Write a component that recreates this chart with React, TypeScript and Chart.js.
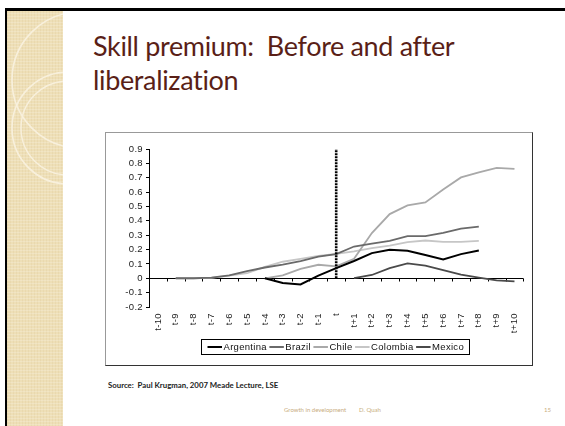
import React, { useEffect, useRef } from "react";
import { Chart, registerables } from "chart.js";
Chart.register(...registerables);

const categories = ["t-10","t-9","t-8","t-7","t-6","t-5","t-4","t-3","t-2","t-1","t","t+1","t+2","t+3","t+4","t+5","t+6","t+7","t+8","t+9","t+10"];
const seriesNames = ["Argentina", "Brazil", "Chile", "Colombia", "Mexico"];
const argentina = [null,null,null,null,null,null, 0, -0.033, -0.043, 0.018, 0.071, 0.12, 0.175, 0.198, 0.191, 0.162, 0.131, 0.168, 0.193, null, null];
const brazil = [null, 0, 0, 0.005, 0.02, 0.05, 0.075, 0.095, 0.12, 0.15, 0.168, 0.221, 0.241, 0.261, 0.294, 0.293, 0.316, 0.345, 0.36, null, null];
const chile = [null,null,null,null,null,null, 0, 0.02, 0.066, 0.094, 0.083, 0.135, 0.315, 0.447, 0.507, 0.528, 0.618, 0.702, 0.738, 0.768, 0.762];
const colombia = [null, 0, 0, 0.003, 0.018, 0.035, 0.08, 0.115, 0.135, 0.155, 0.17, 0.188, 0.21, 0.228, 0.252, 0.263, 0.254, 0.254, 0.261, null, null];
const mexico = [null,null,null,null,null,null,null,null,null,null,null, 0.001, 0.023, 0.071, 0.104, 0.088, 0.056, 0.025, 0.005, -0.014, -0.021];
const seriesColors = ["#000000", "#6a6a6a", "#a9a9a9", "#c6c6c6", "#4a4a4a"];
const yMin = -0.2;
const yMax = 0.9;
const yStep = 0.1;
const markerCategory = "t";
const markerTop = 0.9;

const titleLines = ["Skill premium:  Before and after", "liberalization"];
const sourceText = "Source:  Paul Krugman, 2007 Meade Lecture, LSE";
const footerLeft = "Growth in development";
const footerAuthor = "D. Quah";
const pageNumber = "15";

const chartPlugin = {
  id: "excelLook",
  beforeDraw(chart: any) {
    try { chart.ctx.letterSpacing = "0.35px"; } catch (e) {}
  },
  beforeDatasetsDraw(chart: any) {
    const { ctx, chartArea, scales } = chart;
    const y = scales.y;
    const y0 = Math.round(y.getPixelForValue(0)) + 0.5;
    const n = chart.data.labels.length;
    const w = (chartArea.right - chartArea.left) / n;
    ctx.save();
    ctx.strokeStyle = "#000";
    ctx.lineWidth = 1;
    ctx.beginPath();
    ctx.moveTo(chartArea.left, y0);
    ctx.lineTo(chartArea.right, y0);
    for (let i = 1; i <= n; i++) {
      const px = Math.round(chartArea.left + i * w) + 0.5;
      ctx.moveTo(px, y0);
      ctx.lineTo(px, y0 + 3);
    }
    ctx.stroke();
    ctx.restore();
  },
  afterDatasetsDraw(chart: any) {
    const { ctx, scales } = chart;
    const idx = chart.data.labels.indexOf(markerCategory);
    const px = scales.x.getPixelForValue(idx);
    ctx.save();
    ctx.strokeStyle = "#000";
    ctx.lineWidth = 2.6;
    ctx.setLineDash([2, 1]);
    ctx.beginPath();
    ctx.moveTo(px, scales.y.getPixelForValue(0));
    ctx.lineTo(px, scales.y.getPixelForValue(markerTop));
    ctx.stroke();
    ctx.restore();
  },
  afterDraw(chart: any) {
    const ctx = chart.ctx;
    const boxTop = 206.5;
    const boxH = 15;
    const sample = 14.5;
    const font = "9.5px 'Liberation Sans', Arial, sans-serif";
    ctx.save();
    ctx.font = font;
    try { ctx.letterSpacing = "0.3px"; } catch (e) {}
    const sets = chart.data.datasets;
    let total = 0;
    const widths = sets.map((d: any) => ctx.measureText(d.label).width);
    widths.forEach((w: number) => { total += sample + 1.5 + w; });
    total += 2.5 * (sets.length - 1);
    const pad = 6;
    const boxW = total + pad * 2;
    const boxLeft = Math.round((chart.width - boxW) / 2 + 16) + 0.5;
    ctx.strokeStyle = "#000";
    ctx.lineWidth = 1;
    ctx.strokeRect(boxLeft, boxTop, Math.round(boxW), boxH);
    let x = boxLeft + pad;
    const cy = boxTop + boxH / 2;
    sets.forEach((d: any, i: number) => {
      ctx.strokeStyle = d.borderColor;
      ctx.lineWidth = 2;
      ctx.beginPath();
      ctx.moveTo(x, cy);
      ctx.lineTo(x + sample, cy);
      ctx.stroke();
      x += sample + 1.5;
      ctx.fillStyle = "#111";
      ctx.textBaseline = "middle";
      ctx.textAlign = "left";
      ctx.fillText(d.label, x, cy + 0.5);
      x += widths[i] + 2.5;
    });
    ctx.restore();
  },
};

function ChartCanvas() {
  const ref = useRef<HTMLCanvasElement>(null);
  useEffect(() => {
    if (!ref.current) return;
    const data = [argentina, brazil, chile, colombia, mexico];
    const chart = new Chart(ref.current, {
      type: "line",
      data: {
        labels: categories,
        datasets: seriesNames.map((name, i) => ({
          label: name,
          data: data[i],
          borderColor: seriesColors[i],
          backgroundColor: seriesColors[i],
          borderWidth: i === 0 ? 2 : 1.8,
          pointRadius: 0,
          tension: 0,
          spanGaps: false,
        })),
      },
      options: {
        animation: false,
        responsive: false,
        devicePixelRatio: 1,
        layout: { padding: { top: 16, right: 5, left: 0, bottom: 0 } },
        plugins: { legend: { display: false }, tooltip: { enabled: false } },
        scales: {
          x: {
            type: "category",
            offset: true,
            grid: { display: false, drawTicks: false },
            border: { display: false },
            ticks: {
              autoSkip: false,
              minRotation: 90,
              maxRotation: 90,
              padding: 6,
              color: "#222",
              font: { family: "'Liberation Sans', Arial, sans-serif", size: 9.5 },
            },
            afterFit: (s: any) => { s.height = 58; },
          },
          y: {
            min: yMin,
            max: yMax,
            grid: { display: true, drawOnChartArea: false, drawTicks: true, tickLength: 3, color: "#000", lineWidth: 1 },
            border: { display: true, color: "#000", width: 1 },
            ticks: {
              stepSize: yStep,
              autoSkip: false,
              padding: 3,
              color: "#222",
              font: { family: "'Liberation Sans', Arial, sans-serif", size: 9.5 },
              callback: (v: any) => String(Number(Number(v).toFixed(1))),
            },
            afterFit: (s: any) => { s.width = 43; },
          },
        },
      },
      plugins: [chartPlugin],
    });
    return () => chart.destroy();
  }, []);
  return <canvas ref={ref} width={426} height={232} style={{ display: "block", width: 426, height: 232 }} />;
}

export default function App() {
  return (
    <div style={{ position: "absolute", left: 0, top: 0, width: 565, height: 426, overflow: "hidden", background: "#fff" }}>
      <div style={{ position: "absolute", left: 7, top: 11, width: 56, height: 420, background: "#eedfb7",
        backgroundImage: "repeating-linear-gradient(0deg, rgba(255,255,255,0.18) 0px, rgba(255,255,255,0.18) 1px, transparent 1px, transparent 3px), repeating-linear-gradient(90deg, rgba(200,170,110,0.12) 0px, rgba(200,170,110,0.12) 1px, transparent 1px, transparent 3px)" }}>
        <svg width={56} height={420} style={{ position: "absolute", left: 0, top: 0 }}>
          <circle cx={73} cy={69} r={68} fill="none" stroke="#f8f0dc" strokeWidth={1.6} />
          <circle cx={61} cy={117} r={56} fill="none" stroke="#f8f0dc" strokeWidth={1.6} />
          <circle cx={61} cy={117} r={47} fill="none" stroke="#f8f0dc" strokeWidth={1.4} />
        </svg>
      </div>
      <div style={{ position: "absolute", left: 5, top: 8, width: 600, height: 500, borderTop: "3px solid #000", borderLeft: "2.5px solid #000", boxSizing: "border-box" }} />
      <div style={{ position: "absolute", left: 93, top: 29, fontFamily: "Lato, 'Open Sans', sans-serif", fontSize: 27, letterSpacing: "-0.35px", fontVariantLigatures: "none", lineHeight: "34px", color: "#5a1f17", whiteSpace: "pre" }}>
        {titleLines.map((l, i) => <div key={i}>{l}</div>)}
      </div>
      <div style={{ position: "absolute", left: 105, top: 132, width: 428, height: 234, boxSizing: "border-box", borderTop: "1px solid #999", borderLeft: "1px solid #999", borderRight: "1px solid #333", borderBottom: "1px solid #333", background: "#fff" }}>
        <ChartCanvas />
      </div>
      <div style={{ position: "absolute", left: 108, top: 380, fontFamily: "Lato, sans-serif", fontWeight: 700, fontSize: 7.8, color: "#222", whiteSpace: "pre" }}>{sourceText}</div>
      <div style={{ position: "absolute", left: 284, top: 406, fontFamily: "Lato, sans-serif", fontSize: 6, color: "#c8ad80", whiteSpace: "pre" }}>{footerLeft}</div>
      <div style={{ position: "absolute", left: 359, top: 406, fontFamily: "Lato, sans-serif", fontSize: 6, color: "#c8ad80", whiteSpace: "pre" }}>{footerAuthor}</div>
      <div style={{ position: "absolute", left: 544, top: 406, fontFamily: "Lato, sans-serif", fontSize: 6, color: "#c8ad80", whiteSpace: "pre" }}>{pageNumber}</div>
    </div>
  );
}
